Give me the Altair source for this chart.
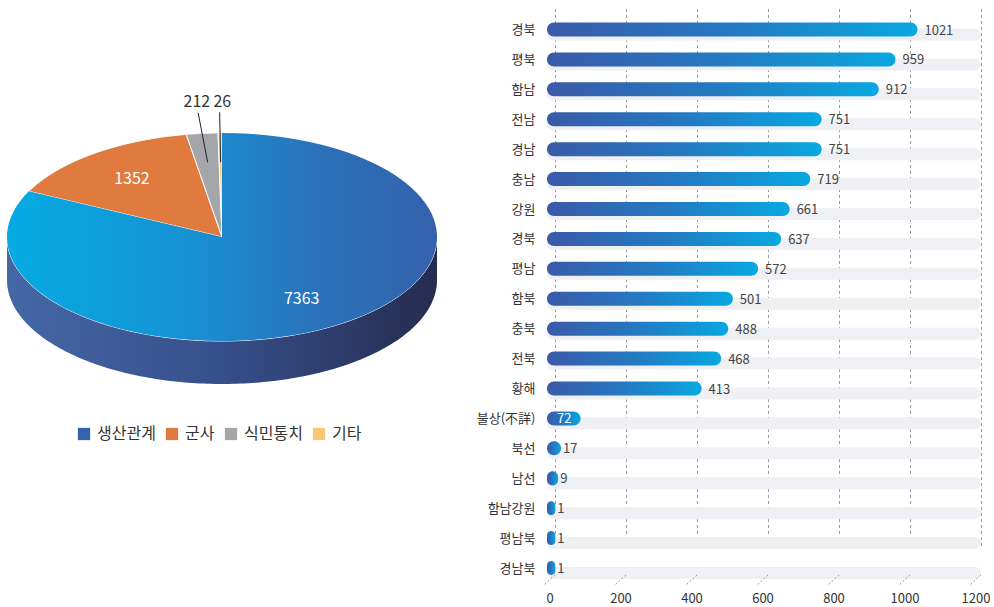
import altair as alt
import pandas as pd

# ---------------- data ----------------
pie_cats = ["생산관계", "군사", "식민통치", "기타"]
pie_vals = [7363, 1352, 212, 26]
pie_colors = ["#3462ae", "#e07a3f", "#a4a6a9", "#fbc774"]

regions = ["경북", "평북", "함남", "전남", "경남", "충남", "강원", "경북", "평남", "함북",
           "충북", "전북", "황해", "불상(不詳)", "북선", "남선", "함남강원", "평남북", "경남북"]
counts = [1021, 959, 912, 751, 751, 719, 661, 637, 572, 501,
          488, 468, 413, 72, 17, 9, 1, 1, 1]
x_ticks = [0, 200, 400, 600, 800, 1000, 1200]

FONT = "Noto Sans CJK KR"

# ---------------- layout constants ----------------
LW, PH = 450, 575              # left panel size, panel height
CX, CY, RX, RY, DEPTH = 222, 237, 215, 104, 43   # pie ellipse geometry (px)
N_SLICES = len(pie_cats)
NO_VIEW = alt.ViewBackground(stroke="transparent", strokeWidth=0, fill="transparent")

pie_df = pd.DataFrame({"cat": pie_cats, "value": pie_vals,
                       "order": list(range(N_SLICES))})

xs = alt.Scale(domain=[0, LW], nice=False, zero=False)
ys = alt.Scale(domain=[0, PH], nice=False, zero=False, reverse=True)

top_grad = alt.LinearGradient(
    gradient="linear",
    stops=[alt.GradientStop(color="#05abe4", offset=0),
           alt.GradientStop(color="#1693d4", offset=0.4),
           alt.GradientStop(color="#2a72bb", offset=0.72),
           alt.GradientStop(color="#3561ac", offset=1)],
    x1=0, x2=1, y1=0, y2=0)
side_grad = alt.LinearGradient(
    gradient="linear",
    stops=[alt.GradientStop(color="#4567a6", offset=0),
           alt.GradientStop(color="#364f8a", offset=0.5),
           alt.GradientStop(color="#252c4f", offset=1)],
    x1=0, x2=1, y1=0, y2=0)
bar_grad = alt.LinearGradient(
    gradient="linear",
    stops=[alt.GradientStop(color="#3a5aa8", offset=0),
           alt.GradientStop(color="#2479c2", offset=0.5),
           alt.GradientStop(color="#08a8e0", offset=1)],
    x1=0, x2=1, y1=0, y2=0)

base = (alt.Chart(pie_df)
        .transform_joinaggregate(total="sum(value)")
        .transform_window(cum="sum(value)", sort=[alt.SortField("order")], frame=[None, 0])
        .transform_calculate(
            a0="2*PI*(datum.cum-datum.value)/datum.total",
            a1="2*PI*datum.cum/datum.total",
            share="datum.value/datum.total")
        .transform_calculate(mid="(datum.a0+datum.a1)/2"))

slices = (base.transform_calculate(t="sequence(-1, 101)")
          .transform_flatten(["t"])
          .transform_calculate(
              ang="datum.a0 + max(datum.t,0)/100*(datum.a1-datum.a0)")
          .transform_calculate(
              px=f"datum.t < 0 ? {CX} : {CX} + {RX}*sin(datum.ang)",
              py=f"datum.t < 0 ? {CY} : {CY} - {RY}*cos(datum.ang)"))

legend = alt.Legend(orient="none", legendX=76, legendY=426, direction="horizontal",
                    title=None, symbolType="square", symbolSize=150, symbolStrokeWidth=0,
                    labelFont=FONT, labelFontSize=16, labelColor="#333333",
                    columnPadding=8, labelOffset=5, padding=0)

slice_layer = slices.mark_line(interpolate="linear-closed", stroke="white", strokeWidth=1).encode(
    x=alt.X("px:Q", scale=xs, axis=None),
    y=alt.Y("py:Q", scale=ys, axis=None),
    fill=alt.Fill("cat:N", scale=alt.Scale(domain=pie_cats, range=pie_colors), legend=legend),
    order="t:Q",
    detail="cat:N")

blue_layer = slices.transform_filter("datum.order == 0").mark_line(
    interpolate="linear-closed", fill=top_grad, strokeOpacity=0).encode(
    x=alt.X("px:Q", scale=xs, axis=None),
    y=alt.Y("py:Q", scale=ys, axis=None),
    order="t:Q")

side_layer = (alt.Chart(alt.sequence(90, 271, 1, as_="deg"))
              .transform_calculate(ang="datum.deg*PI/180")
              .transform_calculate(px=f"{CX}+{RX}*sin(datum.ang)",
                                   py=f"{CY}-{RY}*cos(datum.ang)")
              .transform_calculate(py2=f"datum.py+{DEPTH}")
              .mark_area(orient="vertical", fill=side_grad)
              .encode(x=alt.X("px:Q", scale=xs, axis=None),
                      y=alt.Y("py:Q", scale=ys, axis=None),
                      y2="py2:Q"))

labels = (base.transform_calculate(r="datum.share > 0.05 ? 0.7 : 1.3")
          .transform_calculate(lx=f"{CX}+{RX}*sin(datum.mid)*datum.r",
                               ly=f"{CY}-{RY}*cos(datum.mid)*datum.r"))

inside_labels = labels.transform_filter("datum.share > 0.05").mark_text(
    font=FONT, fontSize=16, color="white").encode(
    x=alt.X("lx:Q", scale=xs, axis=None),
    y=alt.Y("ly:Q", scale=ys, axis=None),
    text="value:Q")

outside_left = labels.transform_filter(
    f"datum.share <= 0.05 && datum.order < {N_SLICES - 1}").mark_text(
    font=FONT, fontSize=16, color="#333333", align="right", dx=14).encode(
    x=alt.X("lx:Q", scale=xs, axis=None),
    y=alt.Y("ly:Q", scale=ys, axis=None),
    text="value:Q")

outside_right = labels.transform_filter(
    f"datum.share <= 0.05 && datum.order == {N_SLICES - 1}").mark_text(
    font=FONT, fontSize=16, color="#333333", align="left", dx=-6).encode(
    x=alt.X("lx:Q", scale=xs, axis=None),
    y=alt.Y("ly:Q", scale=ys, axis=None),
    text="value:Q")

leader_layer = (base.transform_filter("datum.share <= 0.05")
                .transform_calculate(
                    lx1=f"{CX}+{RX}*sin(datum.mid)*1.2",
                    ly1=f"{CY}-{RY}*cos(datum.mid)*1.2",
                    lx2=f"{CX}+{RX}*sin(datum.mid)*0.72",
                    ly2=f"{CY}-{RY}*cos(datum.mid)*0.72")
                .mark_rule(color="#222222", strokeWidth=1)
                .encode(x=alt.X("lx1:Q", scale=xs, axis=None),
                        y=alt.Y("ly1:Q", scale=ys, axis=None),
                        x2="lx2:Q", y2="ly2:Q"))

left = alt.layer(side_layer, slice_layer, blue_layer, leader_layer,
                 inside_labels, outside_left, outside_right).properties(
    width=LW, height=PH, view=NO_VIEW)

# ---------------- bar panel ----------------
keys = [f"{i:02d}|{r}" for i, r in enumerate(regions)]
bar_df = pd.DataFrame({"key": keys, "value": counts})

xsc = alt.Scale(domain=[x_ticks[0], x_ticks[-1]], nice=False)
xaxis = alt.Axis(values=x_ticks, format="d", title=None, grid=True, gridDash=[3, 3],
                 gridColor="#9a9a9a", gridWidth=1, domain=False, ticks=False, tickSize=0,
                 labelPadding=17, labelOffset=-5.5, labelFont=FONT, labelFontSize=13,
                 labelColor="#333333", labelFlush=False)
yb = alt.Y("key:N",
           scale=alt.Scale(type="point", domain=keys, range=[29.5, 568], padding=0),
           axis=alt.Axis(title=None, labelExpr="split(datum.value, '|')[1]", domain=False,
                         ticks=False, grid=False, labelPadding=20, labelFont=FONT,
                         labelFontSize=13, labelColor="#333333",
                         minExtent=105, maxExtent=105))

track = alt.Chart(bar_df).mark_bar(size=12, cornerRadius=6, color="#eff0f3",
                                    yOffset=5, x2Offset=-8).encode(
    x=alt.XDatum(x_ticks[-1], type="quantitative", scale=xsc, axis=xaxis),
    x2=alt.datum(0),
    y=yb)

bars = alt.Chart(bar_df).mark_bar(size=14, cornerRadius=7, x2Offset=-8, fill=bar_grad).encode(
    x=alt.X("value:Q", scale=xsc, axis=xaxis),
    x2=alt.datum(0),
    y=yb)

txt_big = alt.Chart(bar_df).transform_filter("datum.value >= 100").mark_text(
    font=FONT, fontSize=13, color="#444444", align="left", baseline="middle", dx=7, dy=1).encode(
    x=alt.X("value:Q", scale=xsc, axis=xaxis), y=yb, text="value:Q")

txt_mid = alt.Chart(bar_df).transform_filter("datum.value >= 50 && datum.value < 100").mark_text(
    font=FONT, fontSize=13, color="white", align="right", baseline="middle", dx=-9, dy=1).encode(
    x=alt.X("value:Q", scale=xsc, axis=xaxis), y=yb, text="value:Q")

txt_small = alt.Chart(bar_df).transform_filter("datum.value < 50").mark_text(
    font=FONT, fontSize=13, color="#444444", align="left", baseline="middle", dx=2, dy=1).encode(
    x=alt.X("value:Q", scale=xsc, axis=xaxis), y=yb, text="value:Q")

tick_df = pd.DataFrame({"tick": x_ticks})
diag = alt.Chart(tick_df).mark_rule(strokeDash=[2, 2], color="#9a9a9a", x2Offset=-11).encode(
    x=alt.X("tick:Q", scale=xsc, axis=xaxis),
    x2="tick:Q",
    y=alt.value(PH),
    y2=alt.value(PH + 10))

right = alt.layer(track, bars, txt_big, txt_mid, txt_small, diag).properties(
    width=426, height=PH, view=NO_VIEW)

chart = (alt.hconcat(left, right, spacing=0)
         .resolve_scale(x="independent", y="independent")
         .properties(padding={"left": 0, "right": 0, "top": 0, "bottom": 0})
         .configure_view(strokeWidth=0, stroke="transparent")
         .configure(font=FONT))

chart.save("out.html", embed_options={"renderer": "svg", "actions": False})
